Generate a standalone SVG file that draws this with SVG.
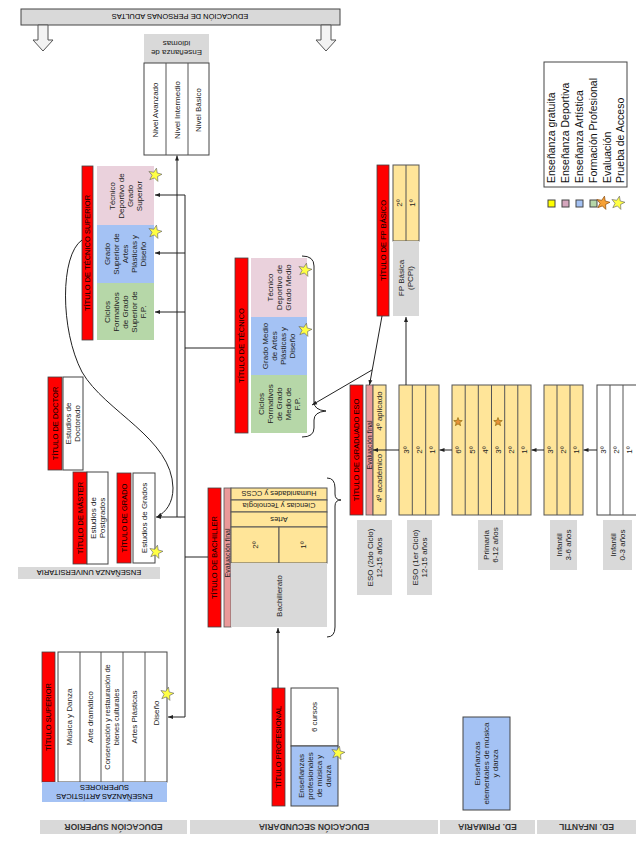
<svg xmlns="http://www.w3.org/2000/svg" width="636" height="848" viewBox="0 0 636 848">
<style>
text{font-family:"Liberation Sans",Arial,Helvetica,sans-serif;font-size:8px;fill:#222;text-anchor:middle}
.ti{font-size:7.5px;fill:#000}
.b{font-weight:bold;font-size:8.5px;fill:#333}
.lg{font-size:10.5px;text-anchor:start;fill:#111}
.red{fill:#f00;stroke:#444;stroke-width:.8}
.yel{fill:#ffe599;stroke:#555;stroke-width:1}
.wht{fill:#fff;stroke:#444;stroke-width:1}
.pk{fill:#ead1dc}.bl{fill:#a4c2f4}.gr{fill:#b6d7a8}.gy{fill:#d9d9d9}
.blb{fill:#a4c2f4;stroke:#444;stroke-width:1}
.ev{fill:#ea9999;stroke:#555;stroke-width:.8}
.ln{stroke:#222;stroke-width:1;fill:none}
.dv{stroke:#555;stroke-width:1}
.ys{fill:#ffff44;stroke:#666;stroke-width:.6}
.os{fill:#e69138;stroke:#7f6000;stroke-width:.6}
</style>
<defs>
<marker id="ah" viewBox="0 0 10 10" refX="10" refY="5" markerWidth="5" markerHeight="5" orient="auto"><path d="M0,1 L10,5 L0,9 z" fill="#222"/></marker>
<polygon id="star" points="0,-7 1.76,-2.43 6.66,-2.16 2.85,0.93 4.11,5.66 0,3 -4.11,5.66 -2.85,0.93 -6.66,-2.16 -1.76,-2.43" transform="rotate(12)"/>
<polygon id="sstar" points="0,-4.5 1.13,-1.56 4.28,-1.39 1.83,0.6 2.64,3.64 0,1.93 -2.64,3.64 -1.83,0.6 -4.28,-1.39 -1.13,-1.56"/>
</defs>

<g id="adultos">
<rect x="21" y="9" width="319" height="16" class="gy" stroke="#444"/>
<text transform="translate(180 17) rotate(180)" y="2.6" class="ti">EDUCACIÓN DE PERSONAS ADULTAS</text>
<polygon points="38,25 48,25 48,40 53,40 43,51 33,40 38,40" fill="#f3f3f3" stroke="#555"/>
<polygon points="321,25 331,25 331,40 336,40 326,51 316,40 321,40" fill="#f3f3f3" stroke="#555"/>
</g>

<g id="idiomas">
<rect x="144" y="34" width="65" height="29" class="gy"/>
<text transform="translate(176.5 48.5) rotate(180)"><tspan x="0" dy="-1.7">Enseñanza de</tspan><tspan x="0" dy="9">idiomas</tspan></text>
<rect x="144" y="63" width="65" height="92" class="wht"/>
<line x1="166" y1="63" x2="166" y2="155" class="dv"/>
<line x1="188" y1="63" x2="188" y2="155" class="dv"/>
<text transform="translate(155 110) rotate(-90)" y="2.8">Nivel Avanzado</text>
<text transform="translate(177 110) rotate(-90)" y="2.8">Nivel Intermedio</text>
<text transform="translate(198.5 110) rotate(-90)" y="2.8">Nivel Básico</text>
</g>

<g id="tecnico-superior">
<rect x="82" y="166" width="11" height="174" class="red"/>
<text transform="translate(87.5 253) rotate(-90)" y="2.6" class="ti">TÍTULO DE TÉCNICO SUPERIOR</text>
<rect x="97" y="166" width="57" height="59" class="pk"/>
<rect x="97" y="225" width="57" height="58" class="bl"/>
<rect x="97" y="283" width="57" height="57" class="gr"/>
<text transform="translate(125.5 196) rotate(-90)"><tspan x="0" dy="-10.7">Técnico</tspan><tspan x="0" dy="9">Deportivo de</tspan><tspan x="0" dy="9">Grado</tspan><tspan x="0" dy="9">Superior</tspan></text>
<text transform="translate(125.5 254) rotate(-90)"><tspan x="0" dy="-15.2">Grado</tspan><tspan x="0" dy="9">Superior de</tspan><tspan x="0" dy="9">Artes</tspan><tspan x="0" dy="9">Plásticas y</tspan><tspan x="0" dy="9">Diseño</tspan></text>
<text transform="translate(125.5 312) rotate(-90)"><tspan x="0" dy="-15.2">Ciclos</tspan><tspan x="0" dy="9">Formativos</tspan><tspan x="0" dy="9">de Grado</tspan><tspan x="0" dy="9">Superior de</tspan><tspan x="0" dy="9">F.P.</tspan></text>
<use href="#star" x="155" y="175" class="ys"/>
<use href="#star" x="155" y="232" class="ys"/>
</g>

<g id="tecnico">
<rect x="235" y="258" width="13" height="175" class="red"/>
<text transform="translate(241.5 345.5) rotate(-90)" y="2.6" class="ti">TÍTULO DE TÉCNICO</text>
<rect x="251" y="258" width="56" height="59" class="pk"/>
<rect x="251" y="317" width="56" height="58" class="bl"/>
<rect x="251" y="375" width="56" height="58" class="gr"/>
<text transform="translate(279 287.5) rotate(-90)"><tspan x="0" dy="-6.2">Técnico</tspan><tspan x="0" dy="9">Deportivo de</tspan><tspan x="0" dy="9">Grado Medio</tspan></text>
<text transform="translate(279 346) rotate(-90)"><tspan x="0" dy="-10.7">Grado Medio</tspan><tspan x="0" dy="9">de Artes</tspan><tspan x="0" dy="9">Plásticas y</tspan><tspan x="0" dy="9">Diseño</tspan></text>
<text transform="translate(279 404) rotate(-90)"><tspan x="0" dy="-15.2">Ciclos</tspan><tspan x="0" dy="9">Formativos</tspan><tspan x="0" dy="9">de Grado</tspan><tspan x="0" dy="9">Medio de</tspan><tspan x="0" dy="9">F.P.</tspan></text>
<use href="#star" x="305" y="270" class="ys"/>
<use href="#star" x="305" y="330" class="ys"/>
</g>

<g id="fp-basica">
<rect x="377" y="165" width="12" height="151" class="red"/>
<text transform="translate(383 240.5) rotate(-90)" y="2.6" class="ti">TÍTULO DE FP BÁSICO</text>
<rect x="393" y="165" width="26" height="76" class="yel"/>
<line x1="406" y1="165" x2="406" y2="241" class="dv"/>
<text transform="translate(399.5 203) rotate(-90)" y="2.8">2º</text>
<text transform="translate(412.5 203) rotate(-90)" y="2.8">1º</text>
<rect x="393" y="241" width="26" height="75" class="gy"/>
<text transform="translate(406 278) rotate(-90)"><tspan x="0" dy="-1.7">FP Básica</tspan><tspan x="0" dy="9">(PCPI)</tspan></text>
</g>

<g id="eso-2">
<rect x="350" y="385" width="13" height="130" class="red"/>
<text transform="translate(356.5 450) rotate(-90)" y="2.6" class="ti">TÍTULO DE GRADUADO ESO</text>
<rect x="366" y="385" width="7" height="130" class="ev"/>
<rect x="373" y="385" width="13" height="130" class="yel"/>
<text transform="translate(369.5 445) rotate(-90)" y="2.5" style="font-size:7px">Evaluación final</text>
<text transform="translate(379.5 411) rotate(-90)" y="2.8">4º aplicado</text>
<text transform="translate(379.5 478) rotate(-90)" y="2.8">4º académico</text>
<rect x="357" y="520" width="35" height="75" class="gy"/>
<text transform="translate(374.5 557.5) rotate(-90)"><tspan x="0" dy="-1.7">ESO (2do Ciclo)</tspan><tspan x="0" dy="9">12-15 años</tspan></text>
</g>

<g id="eso-1">
<rect x="399" y="385" width="40" height="130" class="yel"/>
<line x1="412.3" y1="385" x2="412.3" y2="515" class="dv"/>
<line x1="425.7" y1="385" x2="425.7" y2="515" class="dv"/>
<text transform="translate(405.7 450) rotate(-90)" y="2.8">3º</text>
<text transform="translate(419 450) rotate(-90)" y="2.8">2º</text>
<text transform="translate(432.3 450) rotate(-90)" y="2.8">1º</text>
<rect x="407" y="520" width="25" height="75" class="gy"/>
<text transform="translate(419.5 557.5) rotate(-90)"><tspan x="0" dy="-1.7">ESO (1er Ciclo)</tspan><tspan x="0" dy="9">12-15 años</tspan></text>
</g>

<g id="primaria">
<rect x="452" y="385" width="79" height="130" class="yel"/>
<line x1="465.2" y1="385" x2="465.2" y2="515" class="dv"/>
<line x1="478.3" y1="385" x2="478.3" y2="515" class="dv"/>
<line x1="491.5" y1="385" x2="491.5" y2="515" class="dv"/>
<line x1="504.7" y1="385" x2="504.7" y2="515" class="dv"/>
<line x1="517.8" y1="385" x2="517.8" y2="515" class="dv"/>
<text transform="translate(458.6 450) rotate(-90)" y="2.8">6º</text>
<text transform="translate(471.7 450) rotate(-90)" y="2.8">5º</text>
<text transform="translate(484.9 450) rotate(-90)" y="2.8">4º</text>
<text transform="translate(498.1 450) rotate(-90)" y="2.8">3º</text>
<text transform="translate(511.2 450) rotate(-90)" y="2.8">2º</text>
<text transform="translate(524.4 450) rotate(-90)" y="2.8">1º</text>
<use href="#sstar" x="458" y="422" class="os"/>
<use href="#sstar" x="498" y="422" class="os"/>
<rect x="478" y="520" width="25" height="50" class="gy"/>
<text transform="translate(490.5 545) rotate(-90)"><tspan x="0" dy="-1.7">Primaria</tspan><tspan x="0" dy="9">6-12 años</tspan></text>
</g>

<g id="infantil-2">
<rect x="544" y="385" width="39" height="130" class="yel"/>
<line x1="557" y1="385" x2="557" y2="515" class="dv"/>
<line x1="570" y1="385" x2="570" y2="515" class="dv"/>
<text transform="translate(550.5 450) rotate(-90)" y="2.8">3º</text>
<text transform="translate(563.5 450) rotate(-90)" y="2.8">2º</text>
<text transform="translate(576.5 450) rotate(-90)" y="2.8">1º</text>
<rect x="550" y="520" width="27" height="50" class="gy"/>
<text transform="translate(563.5 545) rotate(-90)"><tspan x="0" dy="-1.7">Infantil</tspan><tspan x="0" dy="9">3-6 años</tspan></text>
</g>

<g id="infantil-1">
<rect x="597" y="385" width="40" height="130" class="wht"/>
<line x1="610" y1="385" x2="610" y2="515" class="dv"/>
<line x1="623" y1="385" x2="623" y2="515" class="dv"/>
<text transform="translate(603.5 450) rotate(-90)" y="2.8">3º</text>
<text transform="translate(616.5 450) rotate(-90)" y="2.8">2º</text>
<text transform="translate(629.5 450) rotate(-90)" y="2.8">1º</text>
<rect x="603" y="520" width="29" height="50" class="gy"/>
<text transform="translate(617.5 545) rotate(-90)"><tspan x="0" dy="-1.7">Infantil</tspan><tspan x="0" dy="9">0-3 años</tspan></text>
</g>

<g id="bachillerato">
<rect x="208" y="488" width="13" height="139" class="red"/>
<text transform="translate(214.5 557.5) rotate(-90)" y="2.6" class="ti">TÍTULO DE BACHILLER</text>
<rect x="224" y="488" width="7" height="139" class="ev"/>
<text transform="translate(227.5 553) rotate(-90)" y="2.5" style="font-size:7px">Evaluación final</text>
<rect x="231" y="488" width="96" height="12" class="yel"/>
<rect x="231" y="500" width="96" height="12" class="yel"/>
<rect x="231" y="512" width="96" height="15" class="yel"/>
<text transform="translate(279 494) rotate(180)" y="2.6" style="font-size:7.5px">Humanidades y CCSS</text>
<text transform="translate(279 506) rotate(180)" y="2.6" style="font-size:7.5px">Ciencias y Tecnología</text>
<text transform="translate(279 519.5) rotate(180)" y="2.6" style="font-size:7.5px">Artes</text>
<rect x="231" y="527" width="48" height="36" class="yel"/>
<rect x="279" y="527" width="48" height="36" class="yel"/>
<text transform="translate(255 545) rotate(-90)" y="2.8">2º</text>
<text transform="translate(303 545) rotate(-90)" y="2.8">1º</text>
<rect x="231" y="563" width="96" height="64" class="gy"/>
<text transform="translate(279 596) rotate(-90)" y="2.8">Bachillerato</text>
</g>

<g id="universidad">
<rect x="48" y="377" width="14" height="93" class="red"/>
<text transform="translate(55 423.5) rotate(-90)" y="2.6" class="ti">TÍTULO DE DOCTOR</text>
<rect x="63" y="377" width="20" height="93" class="wht"/>
<text transform="translate(73 423.5) rotate(-90)"><tspan x="0" dy="-1.7">Estudios de</tspan><tspan x="0" dy="9">Doctorado</tspan></text>
<rect x="73" y="472" width="14" height="92" class="red"/>
<text transform="translate(80 518) rotate(-90)" y="2.6" class="ti">TÍTULO DE MÁSTER</text>
<rect x="87" y="472" width="21" height="92" class="wht"/>
<text transform="translate(97.5 518) rotate(-90)"><tspan x="0" dy="-1.7">Estudios de</tspan><tspan x="0" dy="9">Postgrados</tspan></text>
<rect x="117" y="473" width="14" height="90" class="red"/>
<text transform="translate(124 518) rotate(-90)" y="2.6" class="ti">TÍTULO DE GRADO</text>
<rect x="133" y="473" width="22" height="90" class="wht"/>
<text transform="translate(144 518) rotate(-90)" y="2.8">Estudios de Grados</text>
<use href="#star" x="156" y="552" class="ys"/>
<rect x="18" y="567" width="142" height="12" class="gy"/>
<text transform="translate(89 573) rotate(180)" y="2.6" class="ti">ENSEÑANZA UNIVERSITARIA</text>
</g>

<g id="artisticas-superiores">
<rect x="42" y="652" width="13" height="130" class="red"/>
<text transform="translate(48.5 717) rotate(-90)" y="2.6" class="ti">TÍTULO SUPERIOR</text>
<rect x="58" y="652" width="109" height="130" class="wht"/>
<line x1="80" y1="652" x2="80" y2="782" class="dv"/>
<line x1="101" y1="652" x2="101" y2="782" class="dv"/>
<line x1="123" y1="652" x2="123" y2="782" class="dv"/>
<line x1="145" y1="652" x2="145" y2="782" class="dv"/>
<text transform="translate(69 717) rotate(-90)" y="2.8">Música y Danza</text>
<text transform="translate(90.5 717) rotate(-90)" y="2.8">Arte dramático</text>
<text transform="translate(112 717) rotate(-90)" style="font-size:7.5px"><tspan x="0" dy="-1.8">Conservación y restauración de</tspan><tspan x="0" dy="9">bienes culturales</tspan></text>
<text transform="translate(134 717) rotate(-90)" y="2.8">Artes Plásticas</text>
<text transform="translate(156 713) rotate(-90)" y="2.8">Diseño</text>
<use href="#star" x="167" y="694" class="ys"/>
<rect x="42" y="782" width="125" height="20" class="bl"/>
<text transform="translate(104.5 792) rotate(180)" class="ti"><tspan x="0" dy="-2">ENSEÑANZAS ARTÍSTICAS</tspan><tspan x="0" dy="9">SUPERIORES</tspan></text>
</g>

<g id="profesional">
<rect x="272" y="688" width="13" height="118" class="red"/>
<text transform="translate(278.5 747) rotate(-90)" y="2.6" class="ti">TÍTULO PROFESIONAL</text>
<rect x="291" y="688" width="47" height="58" class="wht"/>
<text transform="translate(314.5 717) rotate(-90)" y="2.8">6 cursos</text>
<rect x="291" y="746" width="47" height="60" class="blb"/>
<text transform="translate(314.5 776) rotate(-90)"><tspan x="0" dy="-10.7">Enseñanzas</tspan><tspan x="0" dy="9">profesionales</tspan><tspan x="0" dy="9">de música y</tspan><tspan x="0" dy="9">danza</tspan></text>
<use href="#star" x="338" y="753" class="ys"/>
</g>

<g id="elementales">
<rect x="463" y="717" width="47" height="93" class="blb"/>
<text transform="translate(486.5 763.5) rotate(-90)"><tspan x="0" dy="-6.2">Enseñanzas</tspan><tspan x="0" dy="9">elementales de música</tspan><tspan x="0" dy="9">y danza</tspan></text>
</g>

<g id="etapas">
<rect x="40" y="820" width="147" height="14" class="gy"/>
<rect x="190" y="820" width="248" height="14" class="gy"/>
<rect x="440" y="820" width="95" height="14" class="gy"/>
<rect x="537" y="820" width="99" height="14" class="gy"/>
<text transform="translate(113.5 827) rotate(180)" y="3" class="b">EDUCACIÓN SUPERIOR</text>
<text transform="translate(314 827) rotate(180)" y="3" class="b">EDUCACIÓN SECUNDARIA</text>
<text transform="translate(487.5 827) rotate(180)" y="3" class="b">ED. PRIMARIA</text>
<text transform="translate(586.5 827) rotate(180)" y="3" class="b">ED. INFANTIL</text>
</g>

<g id="leyenda">
<rect x="544" y="62" width="83" height="125" fill="#fff" stroke="#444"/>
<text transform="translate(551 183) rotate(-90)" y="3.7" class="lg">Enseñanza gratuita</text>
<text transform="translate(565 183) rotate(-90)" y="3.7" class="lg">Enseñanza Deportiva</text>
<text transform="translate(579 183) rotate(-90)" y="3.7" class="lg">Enseñanza Artística</text>
<text transform="translate(593 183) rotate(-90)" y="3.7" class="lg">Formación Profesional</text>
<text transform="translate(607 183) rotate(-90)" y="3.7" class="lg">Evaluación</text>
<text transform="translate(620 183) rotate(-90)" y="3.7" class="lg">Prueba de Acceso</text>
<rect x="548" y="200" width="7" height="7" fill="#ffff00" stroke="#444"/>
<rect x="562" y="200" width="7" height="7" fill="#d5a6bd" stroke="#444"/>
<rect x="576" y="200" width="7" height="7" fill="#a4c2f4" stroke="#444"/>
<rect x="590" y="200" width="7" height="7" fill="#b6d7a8" stroke="#444"/>
<use href="#star" x="603" y="203" fill="#f6a035" stroke="#7f4000" stroke-width=".6"/>
<use href="#star" x="618" y="203" class="ys"/>
</g>

<g id="connectors" class="ln">
<path d="M177 517 V155.5" marker-end="url(#ah)"/>
<path d="M185 195 V717"/>
<path d="M185 195 H155" marker-end="url(#ah)"/>
<path d="M185 253 H155" marker-end="url(#ah)"/>
<path d="M185 312 H155" marker-end="url(#ah)"/>
<path d="M185 348 H235"/>
<path d="M185 517 H156" marker-end="url(#ah)"/>
<path d="M185 557 H208"/>
<path d="M185 717 H168" marker-end="url(#ah)"/>
<path d="M82 240 C60 255 60 330 82 372 C105 412 172 438 173 488 C173 503 166 512 157 517" marker-end="url(#ah)"/>
<path d="M278 688 V628" marker-end="url(#ah)"/>
<path d="M406 385 V317" marker-end="url(#ah)"/>
<path d="M382 316 L369.5 385" marker-end="url(#ah)"/>
<path d="M372 370 L312 405" marker-end="url(#ah)"/>
<path d="M399 450 H373" marker-end="url(#ah)"/>
<path d="M452 450 H439.5" marker-end="url(#ah)"/>
<path d="M544 450 H531.5" marker-end="url(#ah)"/>
<path d="M597 450 H583.5" marker-end="url(#ah)"/>
<path d="M302 256 Q314 256 314 266 L314 402 Q314 410 326 411 Q314 412 314 420 L314 428 Q314 437 302 437"/>
<path d="M327 478 Q335 478 335 488 L335 494 Q335 500 341 500 Q335 500 335 506 L335 627 Q335 637 327 637"/>
</g>
</svg>
